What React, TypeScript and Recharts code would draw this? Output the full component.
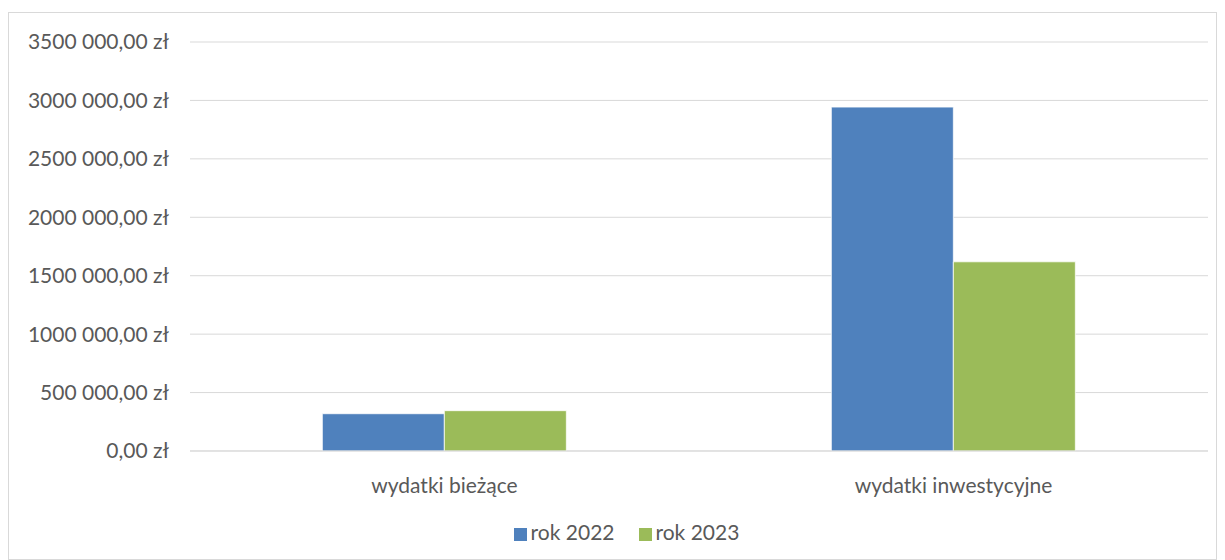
import { BarChart, Bar, XAxis, YAxis, CartesianGrid, Legend } from "recharts";

const categories = ["wydatki bieżące", "wydatki inwestycyjne"];
const rok2022 = [319000, 2943000];
const rok2023 = [345000, 1619000];
const yTicks = [0, 500000, 1000000, 1500000, 2000000, 2500000, 3000000, 3500000];

const data = categories.map((name, i) => ({
  name,
  "rok 2022": rok2022[i],
  "rok 2023": rok2023[i],
}));

const font = "'Lato', 'Open Sans', sans-serif";
const textColor = "#595959";

function formatZl(v: number) {
  if (v < 1000) return `${v},00 zł`;
  const rest = String(v % 1000).padStart(3, "0");
  return `${Math.floor(v / 1000)} ${rest},00 zł`;
}

export default function App() {
  return (
    <div
      style={{
        marginTop: 4,
        width: 1207,
        height: 546,
        border: "1px solid #d9d9d9",
        fontFamily: font,
      }}
    >
      <BarChart
        width={1207}
        height={546}
        data={data}
        margin={{ top: 29, right: 8, bottom: 15, left: 0 }}
        barCategoryGap="26%"
        barGap={0}
      >
        <CartesianGrid vertical={false} stroke="#d9d9d9" />
        <XAxis
          dataKey="name"
          axisLine={{ stroke: "#d9d9d9" }}
          tickLine={false}
          tickMargin={21}
          height={68}
          tick={{ fill: textColor, fontSize: 21, fontFamily: font }}
        />
        <YAxis
          width={181}
          domain={[0, 3500000]}
          ticks={yTicks}
          tickFormatter={formatZl}
          axisLine={false}
          tickLine={false}
          tickMargin={15}
          tick={{ fill: textColor, fontSize: 21, fontFamily: font }}
        />
        <Legend
          iconType="square"
          iconSize={13}
          wrapperStyle={{ fontFamily: font, fontSize: 21, left: 30 }}
          formatter={(v) => (
            <span style={{ color: textColor, marginRight: 14 }}>{v}</span>
          )}
        />
        <Bar dataKey="rok 2022" fill="#4f81bd" stroke="#ffffff" strokeWidth={0.75} isAnimationActive={false} />
        <Bar dataKey="rok 2023" fill="#9bbb59" stroke="#ffffff" strokeWidth={0.75} isAnimationActive={false} />
      </BarChart>
    </div>
  );
}
